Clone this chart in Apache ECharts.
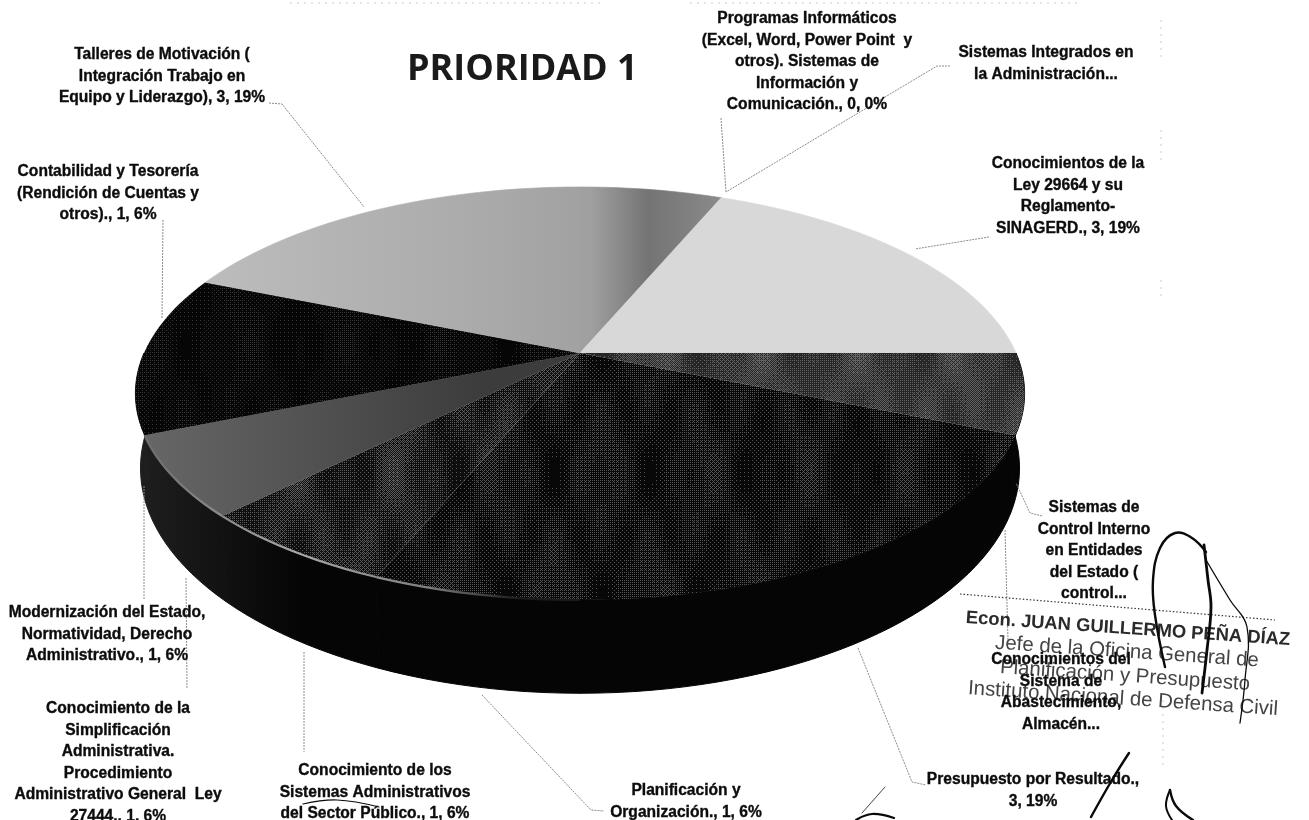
<!DOCTYPE html>
<html>
<head>
<meta charset="utf-8">
<style>html,body{margin:0;padding:0;background:#fff}#chart{width:1309px;height:820px}</style>
<script src="https://cdn.jsdelivr.net/npm/echarts@6/dist/echarts.min.js"></script>
</head>
<body>
<div id="chart"></div>
<script>
// Course priorities, clockwise from the back of the pie.
var categories = [
  'Sistemas Integrados en la Administración',
  'Programas Informáticos',
  'Conocimientos de la Ley 29664',
  'Sistemas de Control Interno',
  'Sistema de Abastecimiento',
  'Presupuesto por Resultado',
  'Planificación y Organización',
  'Sistemas Administrativos',
  'Simplificación Administrativa',
  'Modernización del Estado',
  'Contabilidad y Tesorería',
  'Talleres de Motivación'
];
var values = [1, 0, 3, 0, 1, 3, 1, 1, 1, 1, 1, 3];

// Mottled fill for the dark slices: soft clouds set the density of an ordered dot screen.
var SCREEN = [[0,8,2,10],[12,4,14,6],[3,11,1,9],[15,7,13,5]];
function mottle(base, dot, amount) {
  var size = 512, cv = document.createElement('canvas');
  cv.width = cv.height = size;
  var g = cv.getContext('2d');
  g.fillStyle = base;
  g.fillRect(0, 0, size, size);
  g.fillStyle = dot;
  var k = 2 * Math.PI / size;
  for (var y = 0; y < size; y++) {
    for (var x = 0; x < size; x++) {
      var cloud = 0.5 + 0.3 * Math.cos(k * 5 * x + 0.7) * Math.cos(k * 2 * y + 1.1)
        + 0.2 * Math.sin(k * 11 * x + 2.1) * Math.sin(k * 4 * y + 0.3);
      if (cloud * amount > (SCREEN[y % 4][x % 4] + 0.5) / 16) {
        g.fillRect(x, y, 1, 1);
      }
    }
  }
  return {image: cv, repeat: 'repeat'};
}

var faceColors = [
  {type:'linear',x:590,y:0,x2:720,y2:0,global:true,colorStops:[{offset:0,color:'#a0a0a0'},{offset:.45,color:'#747474'},{offset:1,color:'#8a8a8a'}]},
  '#888888', '#d8d8d8',
  '#444444',
  mottle('#262626', '#626262', 0.75),
  mottle('#080808', '#565656', 0.42),
  mottle('#080808', '#565656', 0.45),
  mottle('#0e0e0e', '#5c5c5c', 0.6),
  {type:'linear',x:150,y:0,x2:480,y2:0,global:true,colorStops:[{offset:0,color:'#666666'},{offset:1,color:'#3c3c3c'}]},
  mottle('#060606', '#383838', 0.25),
  mottle('#060606', '#383838', 0.25),
  {type:'linear',x:210,y:0,x2:600,y2:0,global:true,colorStops:[{offset:0,color:'#bcbcbc'},{offset:.7,color:'#aaaaaa'},{offset:1,color:'#a0a0a0'}]}
];
var wallColor = {type:'linear',x:145,y:0,x2:300,y2:0,global:true,colorStops:[{offset:0,color:'#1e1e1e'},{offset:1,color:'#050505'}]};

// Perspective of the tilted disc: top face and the lower rim of the wall.
var DISC = {cx:580, cy:353, r:436};
var TILT = 0.196;
var TOP = {y0:353, a:198.6, c:436};
var BOTTOM = {y0:424, a:216.5, c:431};

function project(pt, plane) {
  var u = (pt[0] - DISC.cx) / DISC.r;
  var v = (pt[1] - DISC.cy) / DISC.r;
  var d = 1 - TILT * v;
  return [DISC.cx + plane.c * u / d, plane.y0 + plane.a * v / d];
}
function arcPoints(api, start, end, plane) {
  var n = Math.max(2, Math.ceil((end - start) * 12));
  var out = [];
  for (var i = 0; i <= n; i++) {
    out.push(project(api.coord([1, start + (end - start) * i / n]), plane));
  }
  return out;
}

var total = values.reduce(function (a, b) { return a + b; }, 0);
var sliceData = [];
values.reduce(function (sum, v, i) {
  sliceData.push([sum, sum + v, i]);
  return sum + v;
}, 0);

// Only the front half of the disc shows its wall.
function renderWall(params, api) {
  var s = Math.max(api.value(0), total / 4), e = Math.min(api.value(1), total * 3 / 4);
  if (e <= s) return null;
  var pts = arcPoints(api, s, e, TOP).concat(arcPoints(api, s, e, BOTTOM).reverse());
  return {type:'polygon', shape:{points:pts}, style:{fill:wallColor, stroke:wallColor, lineWidth:1}};
}
function renderFace(params, api) {
  var s = api.value(0), e = api.value(1), i = api.value(2);
  if (e <= s) return null;
  var arc = arcPoints(api, s, e, TOP);
  var apex = project(api.coord([0, s]), TOP);
  var fill = faceColors[i];
  var children = [{type:'polygon', shape:{points:[apex].concat(arc)},
    style:{fill:fill, stroke:fill.image ? null : fill, lineWidth:0.6}}];
  // Lit edge along the front left of the top face.
  if (i >= 6 && i <= 8) {
    children.push({type:'polyline', shape:{points:arc}, style:{fill:null, lineWidth:2.2,
      stroke:{type:'linear',x:150,y:0,x2:520,y2:0,global:true,colorStops:[
        {offset:0,color:'#6f6f6f'},{offset:.4,color:'#a8a8a8'},{offset:.75,color:'#808080'},{offset:1,color:'#1a1a1a'}]}}});
  }
  return {type:'group', children:children};
}

// Callout texts as printed beside the pie, with their centre x and top y.
var labelTexts = [
  ['Talleres de Motivación (\nIntegración Trabajo en\nEquipo y Liderazgo), 3, 19%', 162, 44],
  ['Contabilidad y Tesorería\n(Rendición de Cuentas y\notros)., 1, 6%', 108, 161],
  ['Programas Informáticos\n(Excel, Word, Power Point  y\notros). Sistemas de\nInformación y\nComunicación., 0, 0%', 807, 8],
  ['Sistemas Integrados en\nla Administración...', 1046, 42],
  ['Conocimientos de la\nLey 29664 y su\nReglamento-\nSINAGERD., 3, 19%', 1068, 153],
  ['Sistemas de\nControl Interno\nen Entidades\ndel Estado (\ncontrol...', 1094, 497],
  ['Conocimientos del\nSistema de\nAbastecimiento,\nAlmacén...', 1061, 649],
  ['Presupuesto por Resultado.,\n3, 19%', 1033, 769],
  ['Planificación y\nOrganización., 1, 6%', 686, 780],
  ['Conocimiento de los\nSistemas Administrativos\ndel Sector Público., 1, 6%', 375, 760],
  ['Conocimiento de la\nSimplificación\nAdministrativa.\nProcedimiento\nAdministrativo General  Ley\n27444., 1, 6%', 118, 698],
  ['Modernización del Estado,\nNormatividad, Derecho\nAdministrativo., 1, 6%', 107, 602]
];
var leaderPaths = [
  [[269,103],[282,104],[364,207]],
  [[163,220],[162,318]],
  [[721,118],[726,192]],
  [[950,66],[937,66],[726,192]],
  [[989,237],[915,249]],
  [[1042,516],[1030,513],[1016,483]],
  [[1005,530],[1008,640]],
  [[858,648],[912,782],[926,785]],
  [[482,695],[591,810],[604,811]],
  [[304,652],[304,752]],
  [[186,578],[187,688]],
  [[144,486],[144,600]]
];
var stampLines = [
  ['Econ. JUAN GUILLERMO PEÑA DÍAZ', 1128, 629, 'bold 18.4px "Liberation Sans"', '#2a2a2a'],
  ['Jefe de la Oficina General de', 1127, 652, '20.4px "Liberation Sans"', '#444444'],
  ['Planificación y Presupuesto', 1125, 676, '20.4px "Liberation Sans"', '#444444'],
  ['Instituto Nacional de Defensa Civil', 1123, 699, '20.4px "Liberation Sans"', '#444444']
];
var stampTilt = 3.9;
var signatureStrokes = [
  {w:2.4, pts:[[1206,552],[1192,538],[1175,533],[1160,548],[1153,580],[1155,615],[1165,667]]},
  {w:2.8, pts:[[1204,545],[1208,580],[1211,607],[1207,650],[1202,693]]},
  {w:1.3, pts:[[1206,560],[1230,600],[1247,627],[1245,680],[1240,723]]},
  {w:2.4, pts:[[1129,753],[1112,780],[1091,817]]},
  {w:2.4, pts:[[1170,790],[1176,806],[1193,820]]},
  {w:2.0, pts:[[1170,790],[1166,806],[1172,820]]},
  {w:2.2, pts:[[856,820],[872,814],[894,818]]},
  {w:0.8, pts:[[885,787],[862,813]]},
  {w:1.2, pts:[[303,804],[337,800],[379,807]]}
];

var elements = [];
// Scanner marks along the page edges.
[[[290,3],[600,3]],[[690,3],[1080,3]],[[1161,20],[1161,60]],[[1161,130],[1161,165]],[[1161,280],[1161,296]],[[1163,700],[1163,770]]]
  .forEach(function (p) {
    elements.push({type:'polyline', shape:{points:p}, style:{stroke:'#cccccc', lineWidth:1, lineDash:[2,5], fill:null}});
  });
leaderPaths.forEach(function (p) {
  elements.push({type:'polyline', z:5, shape:{points:p}, style:{stroke:'#8c8c8c', lineWidth:1, lineDash:[2,1], fill:null}});
});
// Dotted rule and lettering of the rubber stamp.
elements.push({type:'polyline', z:6, shape:{points:[[960,594],[1275,620]]}, style:{stroke:'#333333', lineWidth:1.2, lineDash:[1.5,2], fill:null}});
stampLines.forEach(function (l) {
  elements.push({type:'text', z:6, x:l[1], y:l[2], rotation:-stampTilt*Math.PI/180,
    style:{text:l[0], font:l[3], fill:l[4], textAlign:'center', textVerticalAlign:'middle'}});
});
labelTexts.forEach(function (l) {
  elements.push({type:'text', z:8, x:l[1], y:l[2],
    style:{text:l[0], font:'bold 15.6px "Liberation Sans"', fill:'#0c0c0c', stroke:'#0c0c0c', lineWidth:0.35,
      textAlign:'center', textVerticalAlign:'top', lineHeight:21.5}});
});
signatureStrokes.forEach(function (s) {
  elements.push({type:'polyline', z:9, shape:{points:s.pts, smooth:0.4}, style:{stroke:'#0a0a0a', lineWidth:s.w, fill:null, lineCap:'round'}});
});

var chart = echarts.init(document.getElementById('chart'));
chart.setOption({
  animation:false,
  backgroundColor:'#ffffff',
  title:{text:'PRIORIDAD 1', left:402, top:47, textStyle:{fontFamily:'Open Sans', fontWeight:'bold', fontSize:36, color:'#1a1a1a'}},
  polar:{center:[DISC.cx, DISC.cy], radius:DISC.r},
  angleAxis:{type:'value', min:0, max:total, startAngle:90, show:false},
  radiusAxis:{type:'value', min:0, max:1, show:false},
  graphic:{elements:elements},
  series:[
    {type:'custom', coordinateSystem:'polar', z:2, data:sliceData, renderItem:renderWall, silent:true},
    {type:'custom', coordinateSystem:'polar', z:3, data:sliceData, renderItem:renderFace, silent:true}
  ]
});
</script>
</body>
</html>
